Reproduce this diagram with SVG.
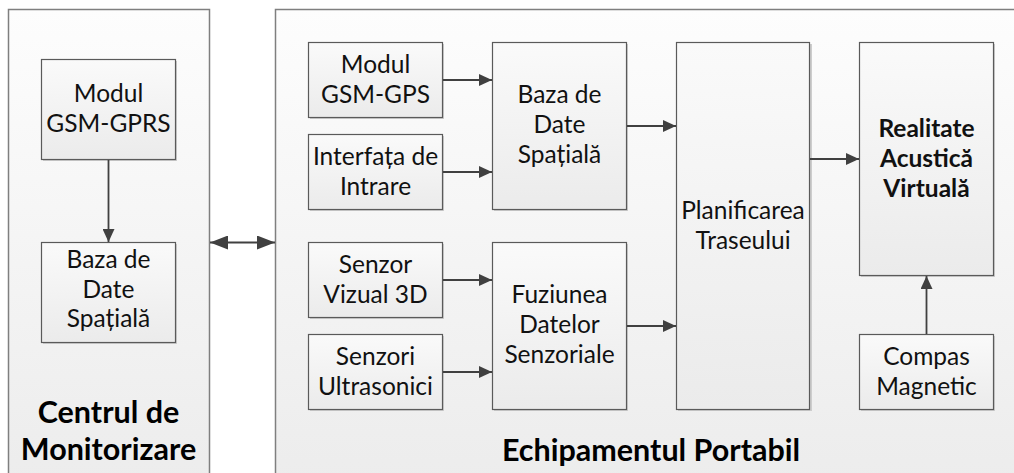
<svg xmlns="http://www.w3.org/2000/svg" width="1014" height="473" viewBox="0 0 1014 473">
<defs>
<linearGradient id="gC" x1="0" y1="0" x2="0" y2="1">
<stop offset="0" stop-color="#fdfdfd"/>
<stop offset="1" stop-color="#ececec"/>
</linearGradient>
<linearGradient id="gB" x1="0" y1="0" x2="0" y2="1">
<stop offset="0" stop-color="#fafafa"/>
<stop offset="1" stop-color="#ebebeb"/>
</linearGradient>
<marker id="ah" markerUnits="userSpaceOnUse" markerWidth="14" markerHeight="12" refX="13" refY="6" orient="auto">
<path d="M0,0 L13,6 L0,12 z" fill="#404040"/>
</marker>
<marker id="ahL" markerUnits="userSpaceOnUse" markerWidth="19" markerHeight="14" refX="18" refY="7" orient="auto">
<path d="M0,0 L18,7 L0,14 z" fill="#404040"/>
</marker>
<marker id="ahLs" markerUnits="userSpaceOnUse" markerWidth="19" markerHeight="14" refX="0" refY="7" orient="auto">
<path d="M18,0 L0,7 L18,14 z" fill="#404040"/>
</marker>
</defs>
<style>
.cont{fill:url(#gC);stroke:#7f7f7f;stroke-width:1.5}
.box{fill:url(#gB);stroke:#5a5a5a;stroke-width:1.2}
.sh{fill:#cdcdcd}
.t{font-family:Lato,"Open Sans","Liberation Sans",sans-serif;font-size:24.5px;fill:#111;text-anchor:middle}
.b{font-weight:bold}
.title{font-family:Lato,"Open Sans","Liberation Sans",sans-serif;font-size:30.5px;font-weight:bold;fill:#000;text-anchor:middle}
.ln{stroke:#404040;stroke-width:1.8;fill:none}
</style>
<rect width="1014" height="473" fill="#ffffff"/>

<g id="centrul">
<rect class="cont" x="8.5" y="9.5" width="201" height="480"/>
<text class="title" x="108.5" y="423">Centrul de</text>
<text class="title" x="108.5" y="460">Monitorizare</text>
</g>
<g id="echipamentul">
<rect class="cont" x="275.5" y="9.5" width="760" height="480"/>
<text class="title" x="651" y="461">Echipamentul Portabil</text>
</g>

<g id="modul-gsm-gprs">
<rect class="sh" x="43" y="61" width="134" height="100"/>
<rect class="box" x="41.5" y="59.5" width="134" height="100"/>
<text class="t" x="108.5" y="102">Modul</text>
<text class="t" x="108.5" y="132">GSM-GPRS</text>
</g>
<g id="baza-stanga">
<rect class="sh" x="43" y="244" width="134" height="100"/>
<rect class="box" x="41.5" y="242.5" width="134" height="100"/>
<text class="t" x="108.5" y="268">Baza de</text>
<text class="t" x="108.5" y="298">Date</text>
<text class="t" x="108.5" y="327">Spațială</text>
</g>

<g id="modul-gsm-gps">
<rect class="sh" x="310" y="44" width="134" height="75"/>
<rect class="box" x="308.5" y="42.5" width="134" height="75"/>
<text class="t" x="375.5" y="73">Modul</text>
<text class="t" x="375.5" y="103">GSM-GPS</text>
</g>
<g id="interfata">
<rect class="sh" x="310" y="136" width="134" height="75"/>
<rect class="box" x="308.5" y="134.5" width="134" height="75"/>
<text class="t" x="375.5" y="165">Interfața de</text>
<text class="t" x="375.5" y="195">Intrare</text>
</g>
<g id="baza-dreapta">
<rect class="sh" x="494" y="44" width="134" height="167"/>
<rect class="box" x="492.5" y="42.5" width="134" height="167"/>
<text class="t" x="559.5" y="103">Baza de</text>
<text class="t" x="559.5" y="133">Date</text>
<text class="t" x="559.5" y="163">Spațială</text>
</g>
<g id="senzor-vizual">
<rect class="sh" x="310" y="244" width="134" height="75"/>
<rect class="box" x="308.5" y="242.5" width="134" height="75"/>
<text class="t" x="375.5" y="273">Senzor</text>
<text class="t" x="375.5" y="303">Vizual 3D</text>
</g>
<g id="senzori-ultrasonici">
<rect class="sh" x="310" y="336" width="134" height="75"/>
<rect class="box" x="308.5" y="334.5" width="134" height="75"/>
<text class="t" x="375.5" y="365">Senzori</text>
<text class="t" x="375.5" y="395">Ultrasonici</text>
</g>
<g id="fuziunea">
<rect class="sh" x="494" y="244" width="134" height="167"/>
<rect class="box" x="492.5" y="242.5" width="134" height="167"/>
<text class="t" x="559.5" y="303">Fuziunea</text>
<text class="t" x="559.5" y="333">Datelor</text>
<text class="t" x="559.5" y="363">Senzoriale</text>
</g>
<g id="planificarea">
<rect class="sh" x="678" y="44" width="134" height="367"/>
<rect class="box" x="676.5" y="42.5" width="133" height="367"/>
<text class="t" x="743" y="219">Planificarea</text>
<text class="t" x="743" y="249">Traseului</text>
</g>
<g id="realitate">
<rect class="sh" x="861" y="44" width="134" height="233"/>
<rect class="box" x="859.5" y="42.5" width="134" height="233"/>
<text class="t b" x="926.5" y="137">Realitate</text>
<text class="t b" x="926.5" y="167">Acustică</text>
<text class="t b" x="926.5" y="197">Virtuală</text>
</g>
<g id="compas">
<rect class="sh" x="861" y="336" width="134" height="75"/>
<rect class="box" x="859.5" y="334.5" width="134" height="75"/>
<text class="t" x="926.5" y="365">Compas</text>
<text class="t" x="926.5" y="395">Magnetic</text>
</g>

<g id="connectors">
<line class="ln" x1="108.5" y1="160" x2="108.5" y2="242" marker-end="url(#ah)"/>
<line class="ln" x1="210" y1="242.5" x2="275" y2="242.5" marker-start="url(#ahLs)" marker-end="url(#ahL)"/>
<line class="ln" x1="443" y1="80" x2="492" y2="80" marker-end="url(#ah)"/>
<line class="ln" x1="443" y1="172" x2="492" y2="172" marker-end="url(#ah)"/>
<line class="ln" x1="627" y1="126" x2="676" y2="126" marker-end="url(#ah)"/>
<line class="ln" x1="443" y1="280" x2="492" y2="280" marker-end="url(#ah)"/>
<line class="ln" x1="443" y1="372" x2="492" y2="372" marker-end="url(#ah)"/>
<line class="ln" x1="627" y1="326" x2="676" y2="326" marker-end="url(#ah)"/>
<line class="ln" x1="810" y1="159" x2="859" y2="159" marker-end="url(#ah)"/>
<line class="ln" x1="926.5" y1="334" x2="926.5" y2="276" marker-end="url(#ah)"/>
</g>
</svg>
